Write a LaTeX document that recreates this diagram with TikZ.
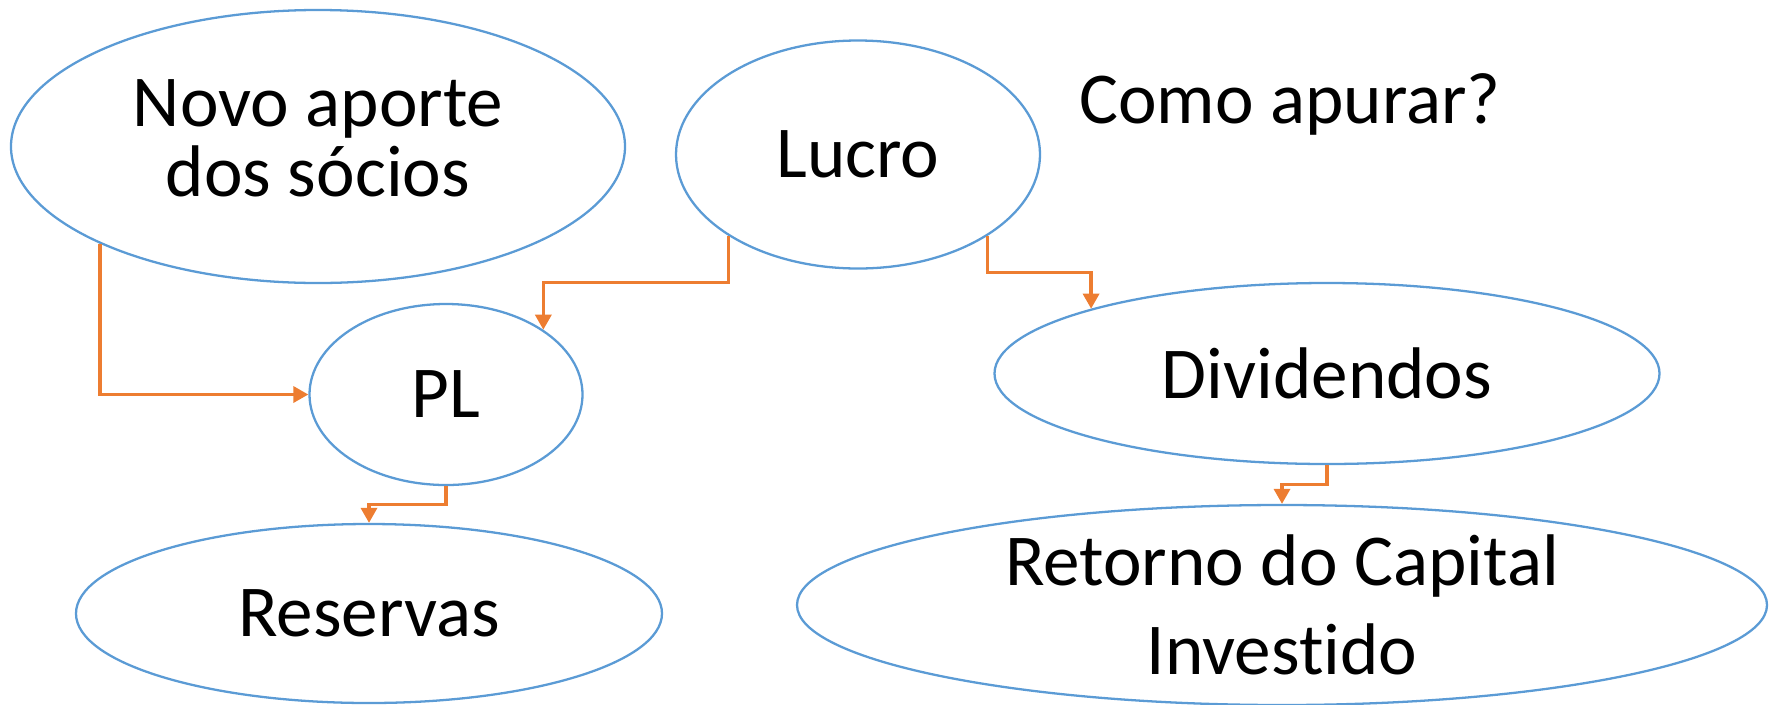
\documentclass[tikz,border=0pt]{standalone}
\usepackage{fontspec}
\setmainfont{Carlito}[Ligatures=NoCommon]
\usetikzlibrary{shapes.geometric,arrows.meta,calc}
\definecolor{bordaazul}{HTML}{5B9BD5}
\definecolor{setalaranja}{HTML}{ED7D31}
\tikzset{
  bolha/.style={ellipse,draw=bordaazul,line width=.65pt,inner sep=0pt,align=center,
    font=\fontsize{20.8pt}{25pt}\selectfont},
  seta/.style={draw=setalaranja,line width=.95pt,-{Triangle[width=.16cm,length=.15cm]}},
  cotovelo/.style={to path={(\tikztostart) |- ($(\tikztostart)!.5!(\tikztotarget)$) -| (\tikztotarget)}}
}
\begin{document}
\begin{tikzpicture}
\useasboundingbox (0,0) rectangle (17.76,-7.04);
\node[bolha,minimum width=6.14cm,minimum height=2.73cm,text depth=.16cm,font=\fontsize{20.8pt}{19.9pt}\selectfont] (novo) at (3.18,-1.465) {Novo aporte\\dos sócios};
\node[bolha,minimum width=3.64cm,minimum height=2.28cm] (lucro) at (8.58,-1.545) {Lucro};
\node[bolha,minimum width=2.73cm,minimum height=1.81cm] (pl) at (4.46,-3.945) {PL};
\node[bolha,minimum width=6.65cm,minimum height=1.81cm] (div) at (13.27,-3.735) {Dividendos};
\node[bolha,minimum width=5.86cm,minimum height=1.79cm] (res) at (3.69,-6.135) {Reservas};
\node[bolha,minimum width=9.70cm,minimum height=2.00cm,font=\fontsize{20.8pt}{25.3pt}\selectfont] (ret) at (12.82,-6.05) {Retorno do Capital\\Investido};
\node[anchor=base,font=\fontsize{20.8pt}{25pt}\selectfont] (como) at (12.90,-1.23) {Como apurar?};
\draw[seta] (novo.south west) |- (pl.west);
\draw[seta] (lucro.south west) to[cotovelo] (pl.north east);
\draw[seta] (lucro.south east) to[cotovelo] (div.north west);
\draw[seta] (pl.south) to[cotovelo] (res.north);
\draw[seta] (div.south) to[cotovelo] (ret.north);
\end{tikzpicture}
\end{document}
